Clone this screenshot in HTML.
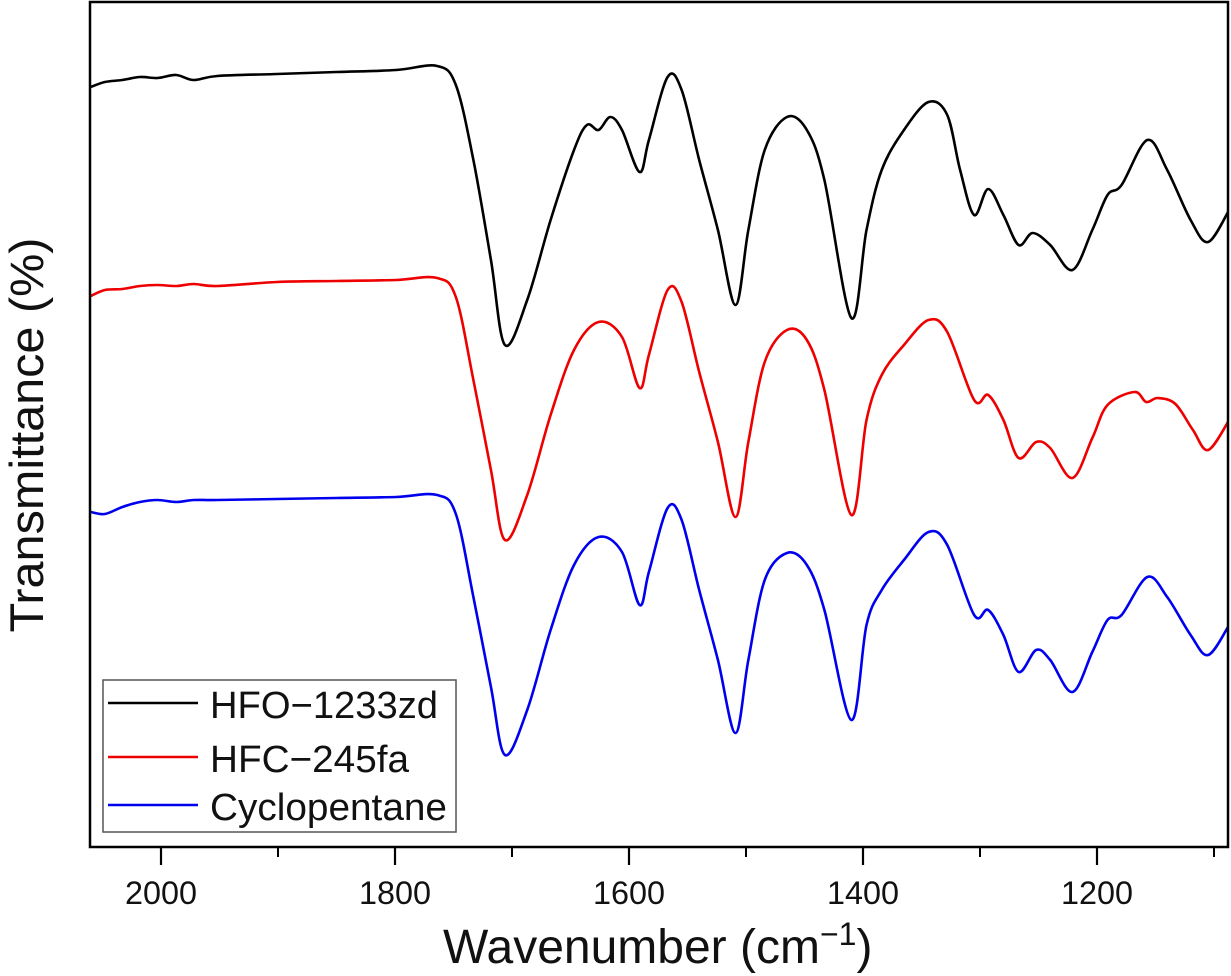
<!DOCTYPE html>
<html><head><meta charset="utf-8"><style>
body{margin:0;background:#fff}
svg{display:block;font-family:"Liberation Sans",sans-serif}
</style></head><body>
<svg id="chart" width="1231" height="976">
<g id="plot"></g>
</svg>
<script>
const ticks=[2000,1800,1600,1400,1200];
const minorTicks=[1900,1700,1500,1300,1100];
const seriesNames=["HFO-1233zd","HFC-245fa","Cyclopentane"];
const seriesColors=["#000","#e00","#00e"];
const wnBlack=[2060,2048,2033,2018,2003,1987,1972,1952,1901,1850,1799,1764,1748,1733,1718,1706,1687,1667,1647,1636,1626,1616,1606,1591,1583,1567,1555,1540,1524,1509,1498,1484,1465,1448,1433,1410,1397,1384,1365,1344,1328,1317,1305,1293,1280,1267,1255,1240,1221,1204,1191,1179,1157,1140,1120,1105,1087];
const valBlack=[765,770,772,775,774,777,772,776,778,780,782,786,767,692,592,507,552,632,702,727,722,735,722,680,712,775,762,692,622,547,622,702,735,722,672,534,622,682,722,750,737,682,637,663,637,607,619,607,582,622,657,667,712,682,632,610,642];
const wnRed=[2060,2048,2033,2018,2003,1987,1972,1952,1901,1850,1799,1764,1748,1733,1718,1706,1687,1667,1647,1626,1606,1591,1583,1567,1555,1540,1524,1509,1498,1484,1465,1448,1433,1410,1397,1384,1365,1344,1328,1305,1293,1280,1267,1252,1240,1221,1204,1191,1168,1158,1148,1133,1118,1105,1087];
const valRed=[556,562,563,566,567,566,568,566,570,571,572,574,555,472,382,312,357,437,502,530,515,464,497,562,550,480,410,335,410,490,522,512,462,337,432,477,507,532,520,452,457,432,394,410,404,374,414,447,460,450,454,448,422,402,432];
const wnBlue=[2060,2048,2033,2018,2003,1987,1972,1952,1901,1850,1799,1764,1748,1733,1718,1706,1687,1667,1647,1626,1606,1591,1583,1567,1555,1540,1524,1509,1498,1484,1465,1448,1433,1410,1397,1384,1365,1344,1328,1305,1293,1280,1267,1252,1240,1221,1204,1191,1179,1157,1140,1120,1105,1087];
const valBlue=[340,338,345,350,352,350,352,352,353,354,355,357,338,255,165,97,142,222,287,315,300,247,280,344,332,262,192,119,192,272,299,287,242,132,227,262,292,320,307,237,242,217,180,202,192,160,200,232,237,275,255,217,197,227];
const xs=v=>161+(2000-v)*1.17;
const ys=v=>852-v;
const NS="http://www.w3.org/2000/svg";
const svg=document.getElementById('chart');
const plot=document.getElementById('plot');
function mk(tag,attrs,parent){const e=document.createElementNS(NS,tag);for(const k in attrs)e.setAttribute(k,attrs[k]);(parent||svg).appendChild(e);return e;}
function pathFor(wn,val){const p=wn.map((w,i)=>[xs(w),ys(val[i])]);let d=`M${p[0][0]},${p[0][1]}`;
for(let i=0;i<p.length-1;i++){const p0=p[i-1]||p[i],p1=p[i],p2=p[i+1],p3=p[i+2]||p2;const t=1/6;
d+=`C${p1[0]+(p2[0]-p0[0])*t},${p1[1]+(p2[1]-p0[1])*t} ${p2[0]-(p3[0]-p1[0])*t},${p2[1]-(p3[1]-p1[1])*t} ${p2[0]},${p2[1]}`;}return d;}
const cp=mk('clipPath',{id:'cp'});mk('rect',{x:90,y:2,width:1138,height:845},cp);
const data=[[wnBlack,valBlack],[wnRed,valRed],[wnBlue,valBlue]];
data.forEach((s,i)=>{const e=mk('path',{d:pathFor(s[0],s[1]),fill:'none',stroke:seriesColors[i],'stroke-width':2.6,'clip-path':'url(#cp)'},plot);

});
const fr=mk('rect',{x:90,y:2,width:1138,height:845,fill:'none',stroke:'#000','stroke-width':2.5});


ticks.forEach(t=>{mk('line',{x1:xs(t),x2:xs(t),y1:847,y2:865,stroke:'#000','stroke-width':2.2});
const tx=mk('text',{x:xs(t),y:904,'text-anchor':'middle','font-size':32,fill:'#111',textLength:72,lengthAdjust:'spacingAndGlyphs'});tx.textContent=t;

});
minorTicks.forEach(t=>{if(xs(t)<1228)mk('line',{x1:xs(t),x2:xs(t),y1:847,y2:857,stroke:'#000','stroke-width':2});});
const xt=mk('text',{x:443,y:963,'font-size':48,fill:'#111'});xt.innerHTML='Wavenumber (cm<tspan dy="-18" font-size="32">−1</tspan><tspan dy="18">)</tspan>';


const yt=mk('text',{x:0,y:0,'text-anchor':'middle','font-size':47,fill:'#111',textLength:395,lengthAdjust:'spacingAndGlyphs',transform:'translate(43,435) rotate(-90)'});yt.textContent='Transmittance (%)';


const lg=mk('g',{});


mk('rect',{x:103,y:680,width:353,height:152,fill:'#fff',stroke:'#555','stroke-width':1.5},lg);
const legY=[703,757,805];
const legW=[228,199,237];
seriesNames.forEach((n,i)=>{const y=legY[i];
const en=mk('g',{},lg);


mk('line',{x1:108,x2:198,y1:y,y2:y,stroke:seriesColors[i],'stroke-width':2.6},en);
const t=mk('text',{x:210,y:y+15,'font-size':38,fill:'#111',textLength:legW[i],lengthAdjust:'spacingAndGlyphs'},en);t.textContent=n.replace('-','−');});
</script>
</body></html>
